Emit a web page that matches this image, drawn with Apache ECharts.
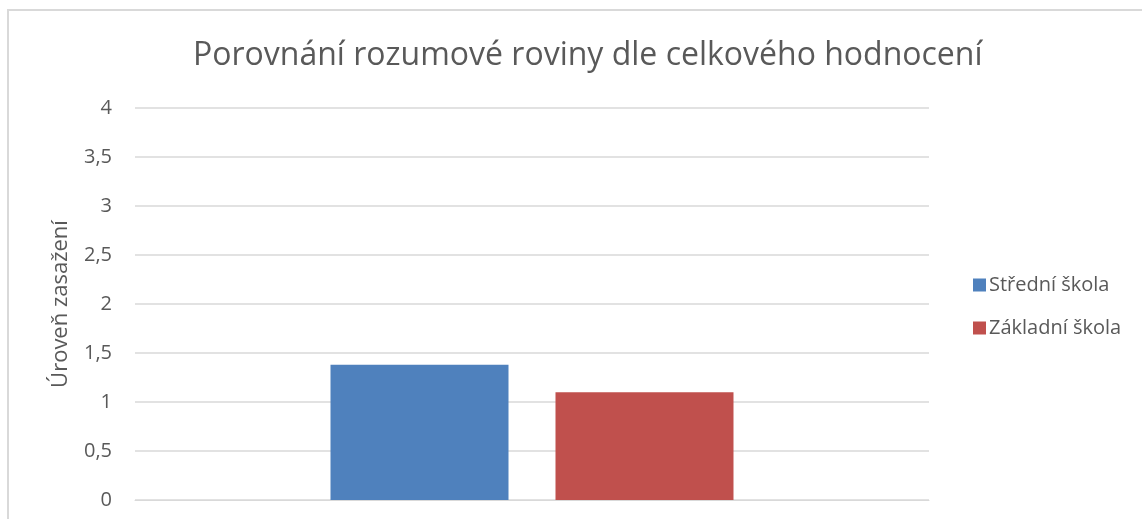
<!DOCTYPE html>
<html>
<head>
<meta charset="utf-8">
<script src="https://cdn.jsdelivr.net/npm/echarts@6/dist/echarts.min.js"></script>
<style>
  html, body { margin: 0; padding: 0; background: #ffffff; }
  #chart { width: 1142px; height: 519px; }
</style>
</head>
<body>
<div id="chart"></div>
<script>
// Data
const categories = [''];
const seriesNames = ['Střední škola', 'Základní škola'];
const strednSkola = [1.38];
const zakladniSkola = [1.1];
const seriesColors = ['#4f81bd', '#c0504d'];
const yTicks = { min: 0, max: 4, interval: 0.5 };

const FONT = '"Open Sans", "Noto Sans", sans-serif';
const chart = echarts.init(document.getElementById('chart'), null, { renderer: 'canvas' });

chart.setOption({
  backgroundColor: '#ffffff',
  animation: false,
  graphic: [{
    type: 'polyline',
    shape: { points: [[8, 530], [8, 10], [1150, 10]] },
    style: { stroke: '#d9d9d9', lineWidth: 2, fill: null },
    silent: true
  }],
  title: {
    text: 'Porovnání rozumové roviny dle celkového hodnocení',
    left: 188,
    top: 35,
    textStyle: { fontFamily: FONT, fontSize: 32, fontWeight: 'normal', color: '#595959' }
  },
  legend: {
    orient: 'vertical',
    left: 968,
    top: 270,
    itemWidth: 13,
    itemHeight: 13,
    itemGap: 23,
    icon: 'rect',
    textStyle: { fontFamily: FONT, fontSize: 20, color: '#595959', padding: [0, 0, 0, -2] },
    data: seriesNames
  },
  grid: { left: 135, right: 213, top: 108, bottom: 19, containLabel: false },
  xAxis: {
    type: 'category',
    data: categories,
    axisLine: { show: true, lineStyle: { color: '#d9d9d9', width: 1 } },
    axisTick: { show: false },
    axisLabel: { show: false }
  },
  yAxis: {
    type: 'value',
    min: yTicks.min,
    max: yTicks.max,
    interval: yTicks.interval,
    name: 'Úroveň zasažení',
    nameLocation: 'middle',
    nameGap: 63,
    nameRotate: 90,
    nameTextStyle: { fontFamily: FONT, fontSize: 22, color: '#595959' },
    axisLine: { show: false },
    axisTick: { show: false },
    axisLabel: {
      fontFamily: FONT,
      fontSize: 20,
      color: '#595959',
      margin: 23,
      formatter: v => String(v).replace('.', ',')
    },
    splitLine: { lineStyle: { color: '#d9d9d9', width: 1.5 } }
  },
  series: [
    {
      name: seriesNames[0],
      type: 'bar',
      data: strednSkola,
      barWidth: 178,
      barGap: '26.4%',
      itemStyle: { color: seriesColors[0] }
    },
    {
      name: seriesNames[1],
      type: 'bar',
      data: zakladniSkola,
      barWidth: 178,
      barGap: '26.4%',
      itemStyle: { color: seriesColors[1] }
    }
  ]
});
</script>
</body>
</html>
